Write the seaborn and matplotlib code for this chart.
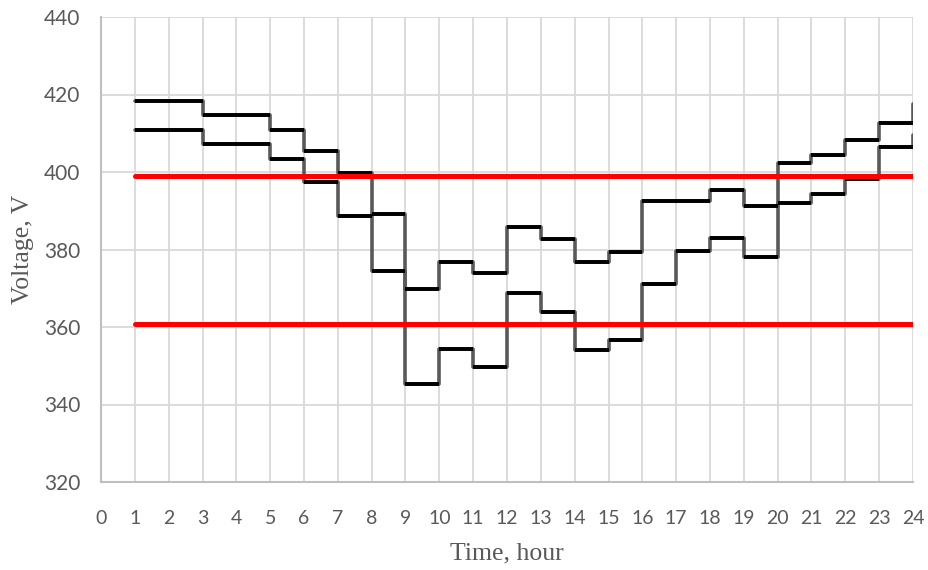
import numpy as np
import pandas as pd
import matplotlib
matplotlib.use("Agg")
import matplotlib.pyplot as plt
import seaborn as sns

# ---- data ----
hours = list(range(1, 25))
upper_voltage = [418.3, 418.3, 414.8, 414.8, 410.8, 405.5, 399.8, 389.2, 369.8, 376.9,
                 373.9, 385.9, 382.8, 376.9, 379.4, 392.5, 392.5, 395.3, 391.3, 402.4,
                 404.4, 408.3, 412.6, 417.5]
lower_voltage = [410.8, 410.8, 407.2, 407.2, 403.4, 397.4, 388.7, 374.5, 345.2, 354.4,
                 349.8, 368.9, 364.0, 354.1, 356.7, 371.1, 379.7, 383.0, 378.1, 392.0,
                 394.3, 398.2, 406.5, 409.5]
upper_limit = 399.0
lower_limit = 360.9
x_ticks = list(range(0, 25))
y_ticks = [320, 340, 360, 380, 400, 420, 440]

sns.set_theme(style="whitegrid")
plt.rcParams['font.family'] = ['Lato', 'DejaVu Sans']

fig = plt.figure(figsize=(9.29, 5.70), dpi=100)
ax = fig.add_axes([101/929, 1-482/570, (913-101)/929, (482-17)/570])

df = pd.DataFrame({"hour": hours, "upper": upper_voltage, "lower": lower_voltage})

# vertical (step) parts in dark gray
for col in ["upper", "lower"]:
    sns.lineplot(data=df, x="hour", y=col, ax=ax, color="#595959", linewidth=2.6,
                 drawstyle="steps-post", zorder=3)
    # horizontal parts in black
    ax.hlines(df[col].values[:-1], df["hour"].values[:-1], df["hour"].values[1:],
              colors="black", linewidth=2.8, zorder=4)

# limit lines
lim_df = pd.DataFrame({"hour": [hours[0], hours[-1]]})
sns.lineplot(x=lim_df["hour"], y=[upper_limit]*2, ax=ax, color="#ff0000", linewidth=3.6,
             zorder=5, solid_capstyle="round")
sns.lineplot(x=lim_df["hour"], y=[lower_limit]*2, ax=ax, color="#ff0000", linewidth=3.6,
             zorder=5, solid_capstyle="round")

ax.set_xlim(0, 24)
ax.set_ylim(320, 440)
ax.set_xticks(x_ticks)
ax.set_yticks(y_ticks)
ax.set_xticklabels([str(t) for t in x_ticks])
ax.set_yticklabels([str(t) for t in y_ticks])

ax.grid(True, color="#d9d9d9", linewidth=1.3)
ax.set_axisbelow(True)
for s in ["top", "right"]:
    ax.spines[s].set_visible(False)
for s in ["left", "bottom"]:
    ax.spines[s].set_visible(True)
    ax.spines[s].set_color("#bfbfbf")
    ax.spines[s].set_linewidth(1.5)

ax.tick_params(axis="x", labelsize=14, colors="#595959", pad=20, length=0)
ax.tick_params(axis="y", labelsize=15, colors="#595959", pad=15, length=0)

ax.set_xlabel("Time, hour", family=["Liberation Serif", "DejaVu Serif"], fontsize=18.5,
              color="#595959", labelpad=11)
ax.set_ylabel("Voltage, V", family=["Liberation Serif", "DejaVu Serif"], fontsize=18.5,
              color="#595959", labelpad=7)
ax.legend_ = None

fig.savefig("out.png", dpi=100)
